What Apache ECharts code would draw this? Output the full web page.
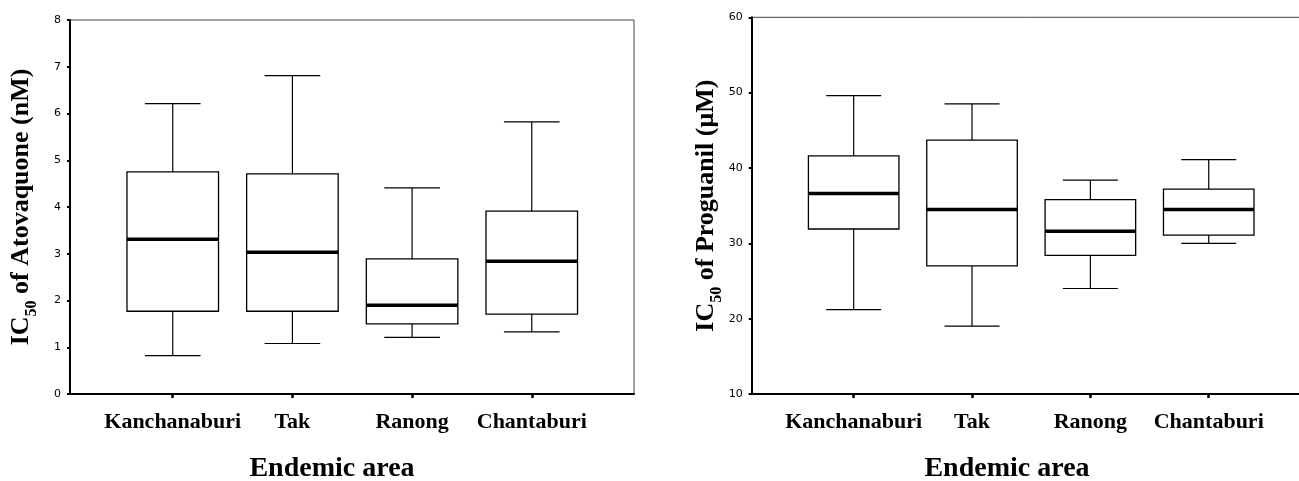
<!DOCTYPE html>
<html><head><meta charset="utf-8">
<script src="https://cdn.jsdelivr.net/npm/echarts@6/dist/echarts.min.js"></script>
<style>html,body{margin:0;padding:0;background:#fff}#c{width:1299px;height:481px}</style>
</head><body><div id="c"></div>
<script>
// ---- data ----
const categories = ['Kanchanaburi', 'Tak', 'Ranong', 'Chantaburi'];
// Atovaquone IC50 (nM)
const atoLow  = [0.82, 1.08, 1.21, 1.33];
const atoQ1   = [1.77, 1.77, 1.50, 1.71];
const atoMed  = [3.31, 3.03, 1.90, 2.84];
const atoQ3   = [4.75, 4.71, 2.89, 3.91];
const atoHigh = [6.21, 6.81, 4.41, 5.82];
// Proguanil IC50 (uM)
const proLow  = [21.2, 19.0, 24.0, 30.0];
const proQ1   = [31.9, 27.0, 28.4, 31.1];
const proMed  = [36.6, 34.5, 31.6, 34.5];
const proQ3   = [41.6, 43.7, 35.8, 37.2];
const proHigh = [49.6, 48.5, 38.4, 41.1];
// axis ranges
const atoAxis = { min: 0, max: 8, interval: 1 };
const proAxis = { min: 10, max: 60, interval: 10 };
const xTitle = 'Endemic area';

const SERIF = '"Liberation Serif","Times New Roman",Times,serif';
const SANS = '"DejaVu Sans",Verdana,sans-serif';

function buildData(lo, q1, md, q3, hi) {
  return categories.map((c, i) => [i, lo[i], q1[i], md[i], q3[i], hi[i]]);
}

function renderBox(params, api) {
  const i = api.value(0);
  const low = api.coord([i, api.value(1)]);
  const q1 = api.coord([i, api.value(2)]);
  const med = api.coord([i, api.value(3)]);
  const q3 = api.coord([i, api.value(4)]);
  const high = api.coord([i, api.value(5)]);
  const band = api.size([1, 0])[0];
  const bw = band * 0.765, cw = band * 0.465;
  const x = low[0];
  const ls = { stroke: '#000', lineWidth: 1.2 };
  return {
    type: 'group', children: [
      { type: 'line', shape: { x1: x, y1: high[1], x2: x, y2: q3[1] }, style: ls },
      { type: 'line', shape: { x1: x, y1: q1[1], x2: x, y2: low[1] }, style: ls },
      { type: 'line', shape: { x1: x - cw / 2, y1: high[1], x2: x + cw / 2, y2: high[1] }, style: ls },
      { type: 'line', shape: { x1: x - cw / 2, y1: low[1], x2: x + cw / 2, y2: low[1] }, style: ls },
      { type: 'rect', shape: { x: x - bw / 2, y: q3[1], width: bw, height: q1[1] - q3[1] },
        style: { fill: '#fff', stroke: '#000', lineWidth: 1.3 } },
      { type: 'line', shape: { x1: x - bw / 2, y1: med[1], x2: x + bw / 2, y2: med[1] },
        style: { stroke: '#000', lineWidth: 3.5 } }
    ]
  };
}

const nameRich = {
  m: { fontFamily: SERIF, fontWeight: 'bold', fontSize: 26, color: '#000', padding: [0, 0, 6, 0], verticalAlign: 'bottom' },
  s: { fontFamily: SERIF, fontWeight: 'bold', fontSize: 16, color: '#000', verticalAlign: 'bottom' }
};

function frameY(grid, rng, name, gap) {
  return {
    type: 'value', gridIndex: grid, min: rng.min, max: rng.max, interval: rng.interval,
    axisLine: { show: true, lineStyle: { color: '#000', width: 2 } },
    axisTick: { show: true, length: 3, lineStyle: { color: '#000', width: 2 } },
    axisLabel: { fontFamily: SANS, fontSize: 11, color: '#000', margin: 9 },
    splitLine: { show: false },
    name: name, nameLocation: 'middle', nameGap: gap, nameRotate: 90,
    nameTextStyle: { rich: nameRich }
  };
}
function hiddenY(grid, rng) {
  return { type: 'value', gridIndex: grid, min: rng.min, max: rng.max, interval: rng.interval, show: false };
}
function frameX(grid) {
  return {
    type: 'value', gridIndex: grid, min: 0, max: 1,
    axisLine: { show: true, onZero: false, lineStyle: { color: '#000', width: 2 } },
    axisTick: { show: false }, axisLabel: { show: false }, splitLine: { show: false }
  };
}
function catX(grid) {
  return {
    type: 'category', gridIndex: grid, data: categories, boundaryGap: true,
    axisLine: { show: false },
    axisTick: { show: true, alignWithLabel: true, length: 4, lineStyle: { color: '#000', width: 2.5 } },
    axisLabel: { fontFamily: SERIF, fontWeight: 'bold', fontSize: 22, color: '#000', margin: 17, interval: 0 },
    splitLine: { show: false }
  };
}

const chart = echarts.init(document.getElementById('c'), null, { renderer: 'canvas' });
chart.setOption({
  animation: false,
  backgroundColor: '#fff',
  grid: [
    { left: 70, top: 20, width: 564, height: 374, show: true, borderColor: '#444', borderWidth: 1, backgroundColor: 'transparent', outerBoundsMode: 'none', containLabel: false },
    { left: 112.9, top: 20, width: 478.7, height: 374, outerBoundsMode: 'none', containLabel: false },
    { left: 751.7, top: 17.3, right: -10, height: 376.7, show: true, borderColor: '#444', borderWidth: 1, backgroundColor: 'transparent', outerBoundsMode: 'none', containLabel: false },
    { left: 794.5, top: 17.3, width: 473.4, height: 376.7, outerBoundsMode: 'none', containLabel: false }
  ],
  xAxis: [frameX(0), catX(1), frameX(2), catX(3)],
  yAxis: [
    frameY(0, atoAxis, '{m|IC}{s|50}{m| of Atovaquone (nM)}', 30),
    hiddenY(1, atoAxis),
    frameY(2, proAxis, '{m|IC}{s|50}{m| of Proguanil (μM)}', 25),
    hiddenY(3, proAxis)
  ],
  series: [
    { type: 'custom', xAxisIndex: 1, yAxisIndex: 1, renderItem: renderBox,
      encode: { x: 0, y: [1, 2, 3, 4, 5] }, data: buildData(atoLow, atoQ1, atoMed, atoQ3, atoHigh) },
    { type: 'custom', xAxisIndex: 3, yAxisIndex: 3, renderItem: renderBox,
      encode: { x: 0, y: [1, 2, 3, 4, 5] }, data: buildData(proLow, proQ1, proMed, proQ3, proHigh) }
  ],
  graphic: [
    { type: 'text', x: 332, y: 468.5, style: { text: xTitle, fontFamily: SERIF, fontWeight: 'bold', fontSize: 28, fill: '#000', align: 'center', verticalAlign: 'middle' } },
    { type: 'text', x: 1007, y: 468.5, style: { text: xTitle, fontFamily: SERIF, fontWeight: 'bold', fontSize: 28, fill: '#000', align: 'center', verticalAlign: 'middle' } }
  ]
});
</script>
</body></html>
